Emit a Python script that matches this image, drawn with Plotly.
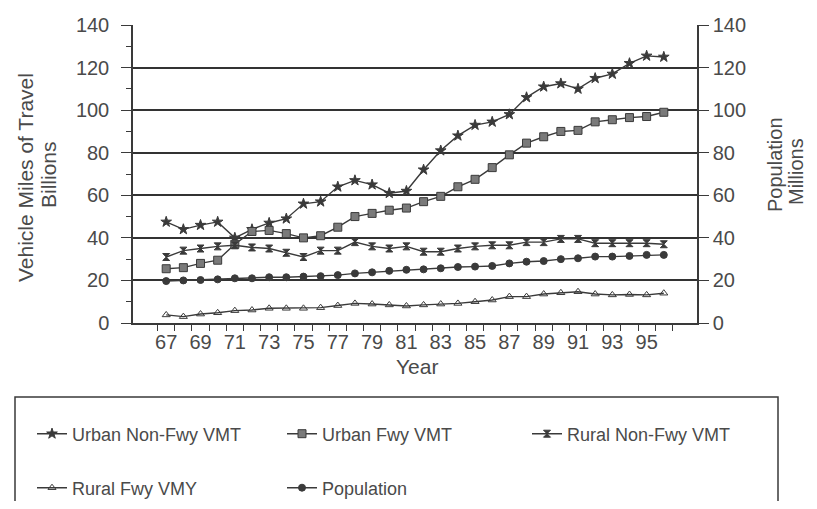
import plotly.graph_objects as go

years = [str(y) for y in range(67, 97)]
tick_text = [y if int(y) % 2 == 1 else "" for y in years]

urban_nonfwy = [47.5, 44, 46, 47.5, 40, 44, 47, 49, 56, 57, 64, 67, 65, 61, 62,
                72, 81, 88, 93, 94.5, 98, 106, 111, 112.5, 110, 115, 117, 122, 125.5, 125]
urban_fwy = [25.5, 26, 28, 29.5, 37, 43, 43.5, 42, 40, 41, 45, 50, 51.5, 53, 54,
             57, 59.5, 64, 67.5, 73, 79, 84.5, 87.5, 90, 90.5, 94.5, 95.5, 96.5, 97, 99]
rural_nonfwy = [31, 34, 35, 36, 36.5, 35.5, 35, 33, 31, 34, 34, 38, 36, 35, 36,
                33.5, 33.5, 35, 36, 36.5, 36.5, 38, 38, 39.5, 39.5, 37.5, 37.5, 37.5, 37.5, 37]
rural_fwy = [3.8, 3, 4.2, 4.8, 5.8, 6.1, 6.9, 6.9, 6.9, 7.2, 8.2, 9.2, 8.9, 8.5, 8,
             8.5, 8.9, 9.2, 10, 10.8, 12.4, 12.4, 13.6, 14.2, 14.7, 13.6, 13.2, 13.4, 13.2, 14]
population = [19.7, 20, 20.2, 20.5, 21, 21, 21.5, 21.5, 21.8, 22, 22.5, 23.3, 23.8, 24.5, 25,
              25.2, 25.7, 26.3, 26.5, 26.8, 28, 28.8, 29.1, 30, 30.4, 31.2, 31.2, 31.5, 32, 32]

# page is 817x509; the plot div sits at the browser's default 8px body margin
PAGE_W, PAGE_H, OFF = 817, 509, 8
W, H = PAGE_W - OFF, PAGE_H - 2 * OFF
L, R, T, B = 133, 697, 25, 323  # plot area in page pixels


def px_x(p):
    return (p - L) / (R - L)


def px_y(p):
    return (B - p) / (B - T)


FONT = "Liberation Sans, Arial, sans-serif"
LC = "#3a3a3a"
TC = "#4a4a4a"

fig = go.Figure()


def add(name, ys, symbol, size, fill, legend, yaxis="y"):
    fig.add_trace(go.Scatter(
        x=years, y=ys, name=name, mode="lines+markers", yaxis=yaxis,
        line=dict(color=LC, width=1.4),
        marker=dict(symbol=symbol, size=size, color=fill,
                    line=dict(color=LC, width=1)),
        legend=legend, showlegend=True,
    ))


add("Urban Non-Fwy VMT", urban_nonfwy, "star", 8, LC, "legend")
add("Urban Fwy VMT", urban_fwy, "square", 8, "#7a7a7a", "legend2")
add("Rural Non-Fwy VMT", rural_nonfwy, "hourglass", 7, LC, "legend3")
add("Rural Fwy VMY", rural_fwy, "triangle-up-open", 7, LC, "legend4")
add("Population", population, "circle", 7, LC, "legend5", yaxis="y2")

axis_font = dict(family=FONT, size=20, color=TC)
leg_font = dict(family=FONT, size=18, color=TC)
title_font = dict(family=FONT, size=21, color=TC)


def leg(xp, yp):
    return dict(orientation="h", x=px_x(xp), xanchor="left", y=px_y(yp), yanchor="middle",
                font=leg_font, bgcolor="rgba(0,0,0,0)")


def note(text, xp, yp, angle=0, size=21):
    return dict(text=text, textangle=angle, x=px_x(xp), y=px_y(yp),
                xref="paper", yref="paper", showarrow=False,
                xanchor="center", yanchor="middle",
                font=dict(family=FONT, size=size, color=TC))


fig.update_layout(
    width=W, height=H,
    margin=dict(l=L - OFF, r=PAGE_W - R, t=T - OFF, b=(PAGE_H - OFF) - B, autoexpand=False),
    paper_bgcolor="white", plot_bgcolor="white",
    font=dict(family=FONT, color=TC),
    showlegend=True,
    xaxis=dict(type="category", tickvals=years, ticktext=tick_text,
               tickson="boundaries", ticks="outside", ticklen=6, tickcolor=LC,
               showline=True, linecolor=LC, linewidth=1.5, automargin=False,
               showgrid=False, tickfont=axis_font, tickangle=0),
    yaxis=dict(range=[0, 140], dtick=20, ticks="outside", ticklen=10, tickcolor=LC,
               showline=True, linecolor=LC, linewidth=1.5, automargin=False,
               showgrid=True, gridcolor="#333333", gridwidth=2,
               zeroline=False, tickfont=axis_font, ticklabelstandoff=8,
               minor=dict(dtick=10, ticks="outside", ticklen=5, tickcolor=LC, showgrid=False)),
    yaxis2=dict(range=[0, 140], dtick=20, overlaying="y", side="right",
                ticks="outside", ticklen=10, tickcolor=LC, automargin=False,
                showline=True, linecolor=LC, linewidth=1.5,
                showgrid=False, zeroline=False, tickfont=axis_font),
    legend=leg(32, 434),
    legend2=leg(282, 434),
    legend3=leg(527, 434),
    legend4=leg(32, 488),
    legend5=leg(282, 488),
    shapes=[dict(type="rect", xref="paper", yref="paper",
                 x0=px_x(15), x1=px_x(778), y0=px_y(515), y1=px_y(397),
                 line=dict(color=LC, width=1.5), fillcolor="rgba(0,0,0,0)")],
    annotations=[
        note("Vehicle Miles of Travel", 25, 178, -90),
        note("Billions", 48, 175, -90),
        note("Population", 775, 165, -90, 20),
        note("Millions", 796, 172, -90, 20),
        note("Year", 417, 366),
    ],
)

fig.write_html("out.html")
